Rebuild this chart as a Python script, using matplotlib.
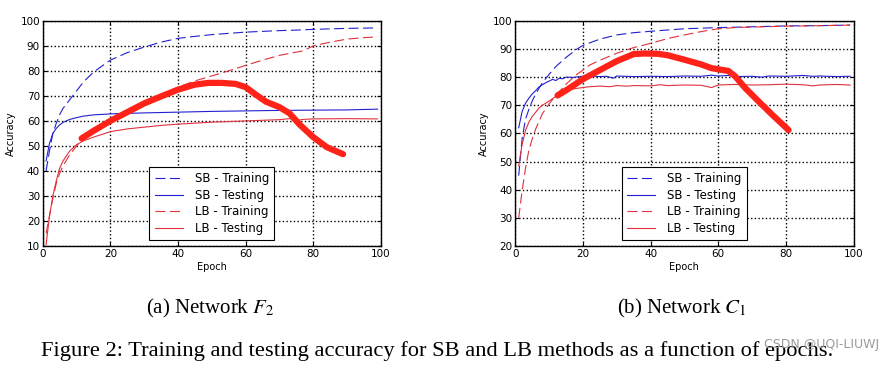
import matplotlib
matplotlib.use('Agg')
import matplotlib.pyplot as plt

# ---- data ----
# Network F2
ep_f2_sb_train = [1, 2, 3, 4, 5, 6, 8, 10, 12, 15, 20, 25, 30, 35, 40, 45, 50, 55, 60, 65, 70, 75, 80, 85, 90, 95, 99]
f2_sb_train = [40, 48, 55, 59, 62.5, 65, 68.5, 72, 75.5, 79.5, 84.3, 87.3, 89.5, 91.5, 93, 93.8, 94.5, 95, 95.5, 95.8, 96.1, 96.3, 96.6, 96.8, 97, 97.1, 97.2]

ep_f2_sb_test = [1, 2, 3, 4, 5, 6, 8, 10, 12, 15, 20, 25, 30, 40, 50, 60, 70, 80, 90, 99]
f2_sb_test = [44, 51, 55, 57, 58.4, 59.4, 60.6, 61.3, 61.9, 62.4, 62.8, 63, 63.2, 63.5, 63.8, 64, 64.2, 64.3, 64.4, 64.7]

ep_f2_lb_train = [1, 2, 3, 4, 5, 6, 8, 10, 12, 15, 20, 25, 30, 35, 40, 45, 50, 55, 60, 65, 70, 75, 77, 80, 85, 90, 95, 99]
f2_lb_train = [15, 22, 29, 35, 39, 42, 46.5, 50, 53, 56.5, 60.5, 64.5, 67.5, 70.5, 73.5, 76, 78, 80, 82.2, 84.3, 86.2, 87.5, 88, 90, 91.5, 92.7, 93.3, 93.6]

ep_f2_lb_test = [1, 2, 3, 4, 5, 6, 8, 10, 12, 15, 20, 25, 30, 35, 40, 50, 60, 70, 73, 75, 77, 80, 90, 99]
f2_lb_test = [10.5, 22, 30, 36, 41, 44, 48, 50.5, 52, 53.5, 55.7, 56.8, 57.5, 58.2, 58.7, 59.5, 60, 60.5, 60.9, 60.2, 60.6, 60.8, 60.9, 60.8]

ep_f2_mark = [11.5, 15, 20, 25, 30, 35, 40, 45, 49, 53, 57, 60, 63, 66, 70, 73, 76, 80, 84, 88.8]
f2_mark = [53, 56, 60, 63.5, 67, 69.8, 72.5, 74.5, 75.2, 75.2, 74.8, 73.5, 70.5, 67.7, 65.5, 63, 58.5, 53.5, 49.5, 46.7]

# Network C1
ep_c1_sb_train = [1, 2, 3, 4, 5, 6, 8, 10, 12, 15, 18, 20, 25, 30, 35, 40, 50, 60, 70, 80, 90, 99]
c1_sb_train = [45, 58, 65, 68.5, 71.5, 74, 78, 81, 83.8, 87, 89.8, 91.3, 93.5, 95, 95.8, 96.3, 97.2, 97.6, 97.9, 98.2, 98.3, 98.5]

ep_c1_sb_test = [1, 2, 3, 4, 5, 6, 7, 8, 9, 10, 11, 12, 13, 14, 15, 17, 20, 22, 25, 27, 29, 30, 35, 40, 45, 50, 55, 58, 60, 63, 65, 70, 73, 75, 80, 85, 88, 90, 95, 99]
c1_sb_test = [62, 67.7, 70.7, 72.5, 74, 75.2, 76.5, 77.3, 78, 78.6, 79.2, 78.8, 79.6, 79.4, 80, 79.9, 80.3, 80.4, 80.2, 80.3, 79.6, 80.4, 80.2, 80.3, 80.2, 80.4, 80.3, 80.7, 80.4, 80.6, 80.2, 80.3, 80, 80.4, 80.3, 80.6, 80.3, 80.4, 80.2, 80.3]

ep_c1_lb_train = [1, 2, 3, 4, 5, 6, 8, 10, 12, 15, 18, 20, 22, 25, 28, 30, 35, 40, 45, 50, 55, 60, 65, 70, 80, 90, 99]
c1_lb_train = [30, 39.5, 47.5, 54, 58, 61.5, 67, 70.5, 73.5, 77.5, 80.8, 82.5, 84.3, 86, 87.5, 88.5, 90.5, 92, 93.7, 95, 96.2, 97.2, 97.6, 97.8, 98.1, 98.3, 98.5]

ep_c1_lb_test = [1, 2, 3, 4, 5, 6, 7, 8, 10, 12, 14, 16, 18, 20, 22, 25, 28, 30, 33, 35, 40, 43, 45, 50, 55, 58, 60, 65, 70, 75, 80, 85, 88, 90, 95, 99]
c1_lb_test = [48.5, 56, 61, 64, 66, 67.5, 69, 70, 71.5, 73.2, 74.5, 75.5, 76, 76.3, 76.6, 76.8, 76.6, 77, 76.8, 77, 76.9, 77.3, 77, 77.2, 77.1, 76.3, 77.2, 77.4, 77.2, 77.3, 77.5, 77.3, 76.9, 77.2, 77.4, 77.2]

ep_c1_mark = [12.5, 15, 20, 25, 30, 35, 38, 42, 45, 50, 55, 58, 61, 63, 65, 68, 72, 76, 80.8]
c1_mark = [73.5, 75.3, 79.3, 82.5, 85.7, 88.2, 88.4, 88.3, 87.8, 86.2, 84.5, 83.2, 82.6, 82.2, 80.3, 76.1, 71.3, 66.6, 61.2]

labels = ['SB - Training', 'SB - Testing', 'LB - Training', 'LB - Testing']

plt.rcParams['font.family'] = 'DejaVu Sans'
plt.rcParams['mathtext.fontset'] = 'stix'

fig = plt.figure(figsize=(8.9, 3.66), dpi=100)
ax1 = fig.add_axes([0.048, 0.328, 0.380, 0.615])
ax2 = fig.add_axes([0.579, 0.328, 0.380, 0.615])

blue = '#2020d0'
red = '#e0303c'
dash = (9, 4)


def draw(ax, sbtr, sbte, lbtr, lbte, mark, ylo):
    ax.plot(sbtr[0], sbtr[1], '--', dashes=dash, color=blue, lw=0.8, label=labels[0])
    ax.plot(sbte[0], sbte[1], '-', color=blue, lw=0.8, label=labels[1])
    ax.plot(lbtr[0], lbtr[1], '--', dashes=dash, color=red, lw=0.8, label=labels[2])
    ax.plot(lbte[0], lbte[1], '-', color=red, lw=0.8, label=labels[3])
    ax.plot(mark[0], mark[1], '-', color='#ff2218', lw=4.5, solid_capstyle='round')
    ax.set_xlim(0, 100)
    ax.set_ylim(ylo, 100)
    ax.set_xticks(range(0, 101, 20))
    ax.set_yticks(range(ylo, 101, 10))
    ax.grid(True, color='black', linestyle=':', linewidth=1.0)
    ax.tick_params(direction='in', top=True, right=True, labelsize=7.5, length=3, pad=2)
    ax.set_xlabel('Epoch', fontsize=7, labelpad=2)
    ax.set_ylabel('Accuracy', fontsize=7, labelpad=3)
    for s in ax.spines.values():
        s.set_linewidth(1.0)
    leg = ax.legend(loc='lower center', bbox_to_anchor=(0.5, 0.025), fontsize=8.5,
                    fancybox=False, edgecolor='black', framealpha=1,
                    borderaxespad=0, handlelength=2.4, labelspacing=0.3,
                    handletextpad=1.0, borderpad=0.45)
    leg.get_frame().set_linewidth(0.8)


draw(ax1, (ep_f2_sb_train, f2_sb_train), (ep_f2_sb_test, f2_sb_test),
     (ep_f2_lb_train, f2_lb_train), (ep_f2_lb_test, f2_lb_test),
     (ep_f2_mark, f2_mark), 10)
draw(ax2, (ep_c1_sb_train, c1_sb_train), (ep_c1_sb_test, c1_sb_test),
     (ep_c1_lb_train, c1_lb_train), (ep_c1_lb_test, c1_lb_test),
     (ep_c1_mark, c1_mark), 20)

serif = 'Liberation Serif'
fig.text(0.236, 0.158, '(a) Network $F_2$', ha='center', va='center', fontsize=15, family=serif)
fig.text(0.766, 0.158, '(b) Network $C_1$', ha='center', va='center', fontsize=15, family=serif)
fig.text(0.046, 0.040, 'Figure 2: Training and testing accuracy for SB and LB methods as a function of epochs.',
         ha='left', va='center', fontsize=16.2, family=serif)
# watermark sits over the end of the caption, as in the source image
fig.text(0.988, 0.058, 'CSDN @UQI-LIUWJ', ha='right', va='center', fontsize=9, color='#9a9a9a')

fig.savefig('out.png', dpi=100)
